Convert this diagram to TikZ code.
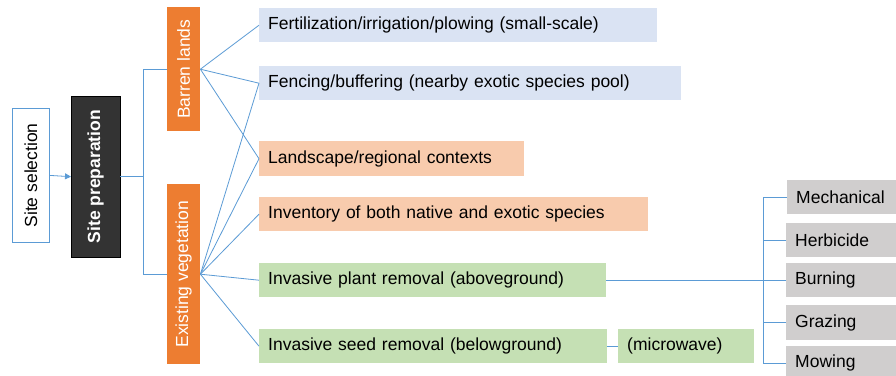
\documentclass[tikz,border=0pt]{standalone}
\usepackage{fontspec}
\setmainfont{Liberation Sans}
\usetikzlibrary{arrows.meta}
\definecolor{cblue}{HTML}{DAE3F3}
\definecolor{corange}{HTML}{F8CBAD}
\definecolor{cgreen}{HTML}{C5E0B4}
\definecolor{cgrey}{HTML}{D0CECE}
\definecolor{dorange}{HTML}{ED7D31}
\definecolor{lnblue}{HTML}{5B9BD5}
\definecolor{dgrey}{HTML}{333333}
\tikzset{
  box/.style={anchor=north west, inner sep=0pt, inner xsep=9pt, align=left, font=\fontsize{17.5}{20}\selectfont},
  vbox/.style={anchor=north west, inner sep=0pt, font=\fontsize{17.5}{20}\selectfont},
  conn/.style={draw=lnblue, line width=0.8pt},
}
\newcommand{\bx}[7]{% name, x, y, w, h, fill, text
  \node[box, fill=#6, minimum height=#5pt, text width=#4pt-18pt] (#1) at (#2,#3) {#7};}
\begin{document}
\begin{tikzpicture}[x=1pt,y=-1pt]
\useasboundingbox[fill=white] (0,0) rectangle (896,375);
% left column
\node[vbox, draw=lnblue, line width=0.8pt, fill=white, minimum width=37pt, minimum height=134pt] (ss) at (12,108) {\rotatebox{90}{Site selection}};
\node[vbox, draw=black, fill=dgrey, text=white, minimum width=49pt, minimum height=161pt, font=\fontsize{17.5}{20}\selectfont\bfseries] (sp) at (71,96) {\rotatebox{90}{Site preparation}};
\node[vbox, fill=dorange, text=white, minimum width=33pt, minimum height=124pt] (bl) at (167,7) {\rotatebox{90}{Barren lands}};
\node[vbox, fill=dorange, text=white, minimum width=33pt, minimum height=180pt] (ev) at (167,184) {\rotatebox{90}{Existing vegetation}};
% middle boxes
\bx{fert}{259}{8}{398}{34}{cblue}{Fertilization/irrigation/plowing (small-scale)}
\bx{fenc}{259}{66}{422}{34}{cblue}{Fencing/buffering (nearby exotic species pool)}
\bx{land}{259}{141}{265}{35}{corange}{Landscape/regional contexts}
\bx{inv}{259}{197}{389}{34}{corange}{Inventory of both native and exotic species}
\bx{ipr}{259}{263}{347}{34}{cgreen}{Invasive plant removal (aboveground)}
\bx{isr}{259}{329}{348}{34}{cgreen}{Invasive seed removal (belowground)}
\bx{mic}{618}{329}{136}{34}{cgreen}{(microwave)}
% right boxes
\bx{mech}{787}{180}{110}{34}{cgrey}{Mechanical}
\bx{herb}{786}{223}{111}{34}{cgrey}{Herbicide}
\bx{burn}{786}{263}{111}{34}{cgrey}{Burning}
\bx{graz}{786}{305}{111}{35}{cgrey}{Grazing}
\bx{mow}{786}{346}{111}{34}{cgrey}{Mowing}
% connectors
\draw[conn, -{Triangle[length=6pt,width=6pt]}] (ss.east) -- (sp.west);
\draw[conn] (sp.east) -- ++(23,0);
\draw[conn] (bl.west) -- ++(-24,0) |- (ev.west);
\foreach \t in {fert,fenc,land} \draw[conn] (bl.east) -- (\t.west);
\foreach \t in {fenc,land,inv,ipr,isr} \draw[conn] (ev.east) -- (\t.west);
\draw[conn] (isr.east) -- (mic.west);
\draw[conn] (ipr.east) -- (burn.west);
\draw[conn] (mech.west) -- ++(-24,0) |- (mow.west);
\draw[conn] (herb.west) -- ++(-23,0);
\draw[conn] (graz.west) -- ++(-23,0);
\end{tikzpicture}
\end{document}
